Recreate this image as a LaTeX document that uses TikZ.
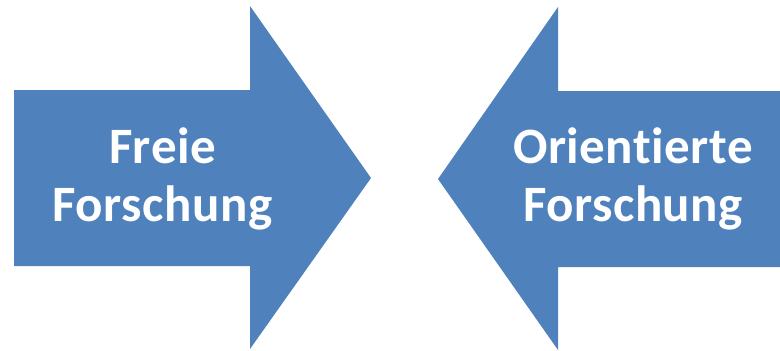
\documentclass[tikz,border=0pt]{standalone}
\usepackage{fontspec}
\setmainfont{Carlito}[RawFeature=-liga,LetterSpace=1]
\definecolor{arrowblue}{HTML}{4F81BD}
\begin{document}
\begin{tikzpicture}[x=1pt,y=-1pt,
  bigarrow/.style={fill=arrowblue,draw=none},
  arrowtext/.style={text=white,font=\fontsize{51}{58}\selectfont\bfseries,align=center,inner sep=0pt}]
\useasboundingbox (0,0) rectangle (780,351);
\fill[bigarrow] (14,90) -- (250,90) -- (250,6) -- (371,178) -- (250,349) -- (250,266) -- (14,266) -- cycle;
\fill[bigarrow] (780,91) -- (558,91) -- (558,7) -- (438,179) -- (558,350) -- (558,267) -- (780,267) -- cycle;
\node[arrowtext] (free) at (162.5,179) {Freie\\Forschung};
\node[arrowtext] (orient) at (633,179) {Orientierte\\Forschung};
\end{tikzpicture}
\end{document}
